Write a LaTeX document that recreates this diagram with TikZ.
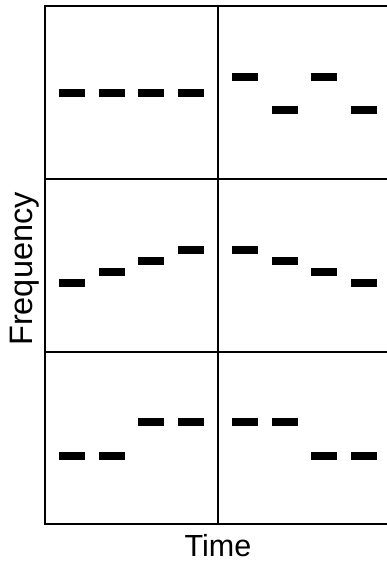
\documentclass[tikz,border=0pt]{standalone}
\usepackage{fontspec}
\setmainfont{Liberation Sans}
\begin{document}
\begin{tikzpicture}[x=1pt,y=-1pt,
  gridline/.style={line width=1.4pt,black},
  bar/.style={fill=black,draw=none,minimum width=26pt,minimum height=8pt,inner sep=0pt,outer sep=0pt,shape=rectangle},
  lbl/.style={inner sep=0pt}]
\useasboundingbox (0,0) rectangle (387,565);
% grid
\coordinate (tl) at (45,6);
\coordinate (tr) at (389,6);
\coordinate (bl) at (45,524);
\coordinate (br) at (389,524);
\draw[gridline] (tr) -- (tl) -- (bl) -- (br);
\coordinate (m1) at (218,6);
\coordinate (m2) at (218,524);
\draw[gridline] (m1) -- (m2);
\coordinate (h1a) at (45,179);
\coordinate (h1b) at (389,179);
\coordinate (h2a) at (45,352);
\coordinate (h2b) at (389,352);
\draw[gridline] (h1a) -- (h1b);
\draw[gridline] (h2a) -- (h2b);
% row 1
\node[bar] (r1l1) at (72,93.3) {};
\node[bar] (r1l2) at (111.7,93.3) {};
\node[bar] (r1l3) at (151.4,93.3) {};
\node[bar] (r1l4) at (191.1,93.3) {};
\node[bar] (r1r1) at (245,77) {};
\node[bar] (r1r2) at (284.7,110.3) {};
\node[bar] (r1r3) at (324.4,77) {};
\node[bar] (r1r4) at (364.1,110.3) {};
% row 2
\node[bar] (r2l1) at (72,282.5) {};
\node[bar] (r2l2) at (111.7,271.5) {};
\node[bar] (r2l3) at (151.4,260.6) {};
\node[bar] (r2l4) at (191.1,249.7) {};
\node[bar] (r2r1) at (245,249.7) {};
\node[bar] (r2r2) at (284.7,260.6) {};
\node[bar] (r2r3) at (324.4,271.5) {};
\node[bar] (r2r4) at (364.1,282.5) {};
% row 3
\node[bar] (r3l1) at (72,455.7) {};
\node[bar] (r3l2) at (111.7,455.7) {};
\node[bar] (r3l3) at (151.4,422.3) {};
\node[bar] (r3l4) at (191.1,422.3) {};
\node[bar] (r3r1) at (245,422.3) {};
\node[bar] (r3r2) at (284.7,422.3) {};
\node[bar] (r3r3) at (324.4,455.7) {};
\node[bar] (r3r4) at (364.1,455.7) {};
% labels
\node[lbl,anchor=base,font=\fontsize{30.5}{32}\selectfont] (time) at (218,556.7) {Time};
\node[lbl,anchor=base,rotate=90,font=\fontsize{32.5}{34}\selectfont] (freq) at (32,269) {Frequency};
\end{tikzpicture}
\end{document}
